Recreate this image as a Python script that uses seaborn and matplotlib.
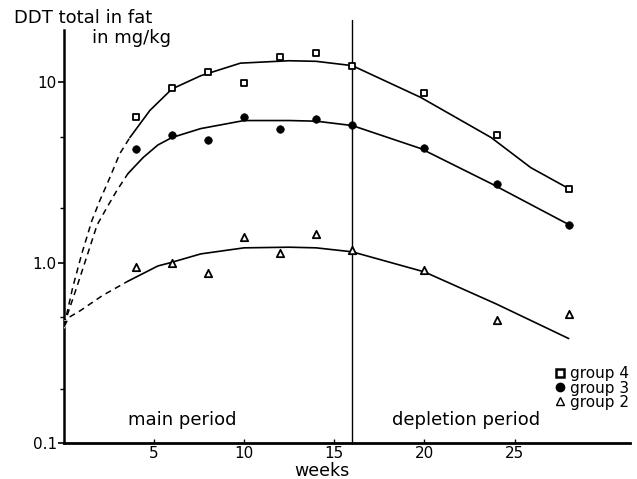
import matplotlib
matplotlib.use("Agg")
import matplotlib.pyplot as plt
import seaborn as sns
from matplotlib.lines import Line2D

# measured points
weeks = [0, 4, 6, 8, 10, 12, 14, 16, 20, 24, 28]
group4 = [0.46, 6.4, 9.3, 11.4, 9.9, 13.8, 14.5, 12.4, 8.7, 5.1, 2.58]
group3 = [0.46, 4.3, 5.1, 4.8, 6.4, 5.5, 6.3, 5.8, 4.35, 2.75, 1.63]
group2 = [0.46, 0.95, 1.0, 0.88, 1.39, 1.14, 1.45, 1.17, 0.91, 0.48, 0.52]

# hand-drawn fitted curves
g4_dash_x = [0, 0.17, 0.5, 1.0, 1.56, 2.0, 2.56, 3.11, 3.67]
g4_dash_y = [0.45, 0.52, 0.73, 1.12, 1.71, 2.21, 2.97, 4.03, 4.95]
g4_solid_x = [3.67, 4.78, 6.0, 7.6, 9.8, 12.5, 14.0, 16.0, 19.8, 23.7, 25.9, 28.0]
g4_solid_y = [4.95, 7.0, 9.2, 10.9, 12.8, 13.2, 13.1, 12.4, 8.26, 4.95, 3.37, 2.58]

g3_dash_x = [0, 0.22, 0.72, 1.33, 1.85, 2.39, 2.94, 3.56]
g3_dash_y = [0.45, 0.52, 0.73, 1.12, 1.62, 2.02, 2.51, 3.12]
g3_solid_x = [3.56, 4.4, 5.22, 6.0, 7.6, 10.0, 12.5, 14.0, 16.0, 19.8, 23.7, 28.0]
g3_solid_y = [3.12, 3.83, 4.5, 4.95, 5.55, 6.15, 6.15, 6.1, 5.77, 4.3, 2.75, 1.63]

g2_dash_x = [0, 0.17, 0.89, 2.17, 3.56]
g2_dash_y = [0.45, 0.49, 0.54, 0.66, 0.79]
g2_solid_x = [3.56, 5.22, 5.9, 7.6, 10.0, 12.5, 14.0, 16.0, 20.0, 24.0, 28.0]
g2_solid_y = [0.79, 0.96, 1.0, 1.12, 1.21, 1.22, 1.21, 1.15, 0.89, 0.59, 0.38]

legend_labels = ["group 4", "group 3", "group 2"]
ytick_vals = [0.1, 1.0, 10]
ytick_labels = ["0.1", "1.0", "10"]
xtick_vals = [5, 10, 15, 20, 25]

sns.set_theme(style="ticks")
plt.rcParams['font.family'] = ['DejaVu Sans']
plt.rcParams['text.color'] = 'black'
plt.rcParams['axes.labelcolor'] = 'black'
plt.rcParams['xtick.color'] = 'black'
plt.rcParams['ytick.color'] = 'black'
plt.rcParams['axes.edgecolor'] = 'black'

fig = plt.figure(figsize=(6.37, 4.79), dpi=100)
ax = fig.add_axes([0.100, 0.075, 0.889, 0.862])

curves = [
    (g4_dash_x, g4_dash_y, g4_solid_x, g4_solid_y),
    (g3_dash_x, g3_dash_y, g3_solid_x, g3_solid_y),
    (g2_dash_x, g2_dash_y, g2_solid_x, g2_solid_y),
]
for dx, dy, sx, sy in curves:
    sns.lineplot(x=dx, y=dy, ax=ax, color="black", lw=1.1, linestyle=(0, (4, 3)), sort=False)
    sns.lineplot(x=sx, y=sy, ax=ax, color="black", lw=1.2, sort=False)

sns.scatterplot(x=weeks[1:], y=group4[1:], ax=ax, marker="s", s=22, facecolor="white",
                edgecolor="black", linewidth=1.3, zorder=5)
sns.scatterplot(x=weeks[1:], y=group3[1:], ax=ax, marker="o", s=30, color="black",
                edgecolor="black", zorder=5)
sns.scatterplot(x=weeks[1:], y=group2[1:], ax=ax, marker="^", s=28, facecolor="white",
                edgecolor="black", linewidth=1.3, zorder=5)
sns.scatterplot(x=[weeks[0]], y=[group2[0]], ax=ax, marker="v", s=30, color="black", zorder=5)

ax.set_yscale("log")
ax.set_ylim(0.1, 19.5)
ax.set_xlim(0, 31.4)

ax.axvline(16, ymin=0, ymax=1.025, color="black", lw=1.0, clip_on=False)

ax.set_yticks(ytick_vals)
ax.set_yticklabels(ytick_labels)
ax.set_yticks([0.2, 0.5, 2, 5], minor=True)
ax.yaxis.set_minor_formatter(matplotlib.ticker.NullFormatter())
ax.set_xticks(xtick_vals)
ax.set_xticklabels([str(v) for v in xtick_vals])
ax.tick_params(axis="y", which="major", direction="out", length=4, width=1.2, labelsize=11, pad=1)
ax.tick_params(axis="y", which="minor", direction="out", length=3, width=1.0)
ax.tick_params(axis="x", which="major", direction="in", length=3, width=1.0, labelsize=11, pad=2)

for side in ["top", "right"]:
    ax.spines[side].set_visible(False)
ax.spines["left"].set_linewidth(1.8)
ax.spines["bottom"].set_linewidth(2.0)

ax.set_xlabel("")
ax.set_ylabel("")
fig.text(322 / 637, 1 - 471 / 479, "weeks", fontsize=12.5, ha="center", va="center")

fig.text(14 / 637, 1 - 18 / 479, "DDT total in fat", fontsize=13, va="center", ha="left")
fig.text(92 / 637, 1 - 38 / 479, "in mg/kg", fontsize=13, va="center", ha="left")

ax.text(6.6, 0.135, "main period", fontsize=13, ha="center", va="center")
ax.text(22.3, 0.135, "depletion period", fontsize=13, ha="center", va="center")

handles = [
    Line2D([], [], marker="s", ls="none", markersize=6, markerfacecolor="white",
           markeredgecolor="black", markeredgewidth=1.8),
    Line2D([], [], marker="o", ls="none", markersize=6, color="black"),
    Line2D([], [], marker="^", ls="none", markersize=6, markerfacecolor="white",
           markeredgecolor="black", markeredgewidth=1.0),
]
ax.legend(handles, legend_labels, loc="upper left", bbox_to_anchor=(0.869, 0.186),
          frameon=False, fontsize=11, handlelength=0.6, handletextpad=0.3,
          labelspacing=-0.05, borderpad=0, borderaxespad=0)

fig.savefig("out.png", dpi=100)
